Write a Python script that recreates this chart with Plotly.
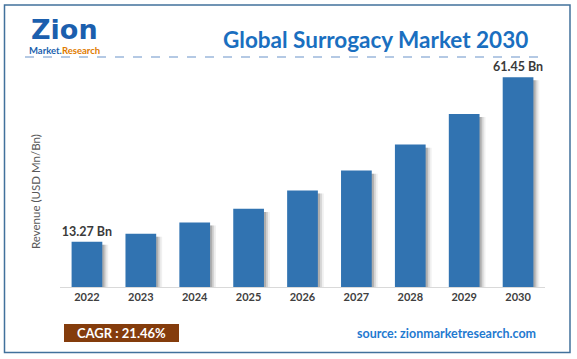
import plotly.graph_objects as go

# ---- data ----
years = ["2022", "2023", "2024", "2025", "2026", "2027", "2028", "2029", "2030"]
revenue = [13.27, 15.6, 18.9, 22.9, 28.3, 34.1, 41.7, 50.7, 61.45]
bar_labels = ["13.27 Bn", "", "", "", "", "", "", "", "61.45 Bn"]
title_text = "Global Surrogacy Market 2030"
y_title = "Revenue (USD Mn/Bn)"
cagr_text = "CAGR : 21.46%"
source_text = "source: zionmarketresearch.com"

W, H = 577, 359
L, R, T, B = 60, 32, 48, 72
PW, PH = W - L - R, H - T - B

def px(x):
    return (x - L) / PW

def py(y):
    return (H - B - y) / PH

FONT = "Lato"
BAR_COLOR = "#3173b1"
BW = 0.57

fig = go.Figure()

# soft shadows to the right of the bars
for dx, alpha in [(0.11, 0.08), (0.075, 0.15), (0.04, 0.25)]:
    fig.add_trace(go.Bar(
        x=years, y=[v - 0.9 for v in revenue], width=BW, offset=-BW / 2 + dx,
        marker=dict(color=f"rgba(60,60,60,{alpha})", line=dict(width=0)),
        hoverinfo="skip", showlegend=False,
    ))

fig.add_trace(go.Bar(
    x=years, y=revenue, width=BW, offset=-BW / 2,
    marker=dict(color=BAR_COLOR, line=dict(width=0)),
    text=bar_labels, textposition="outside", cliponaxis=False, constraintext="none",
    textfont=dict(family=FONT, size=12.5, color="#3a3a3a", weight="bold"),
    showlegend=False,
))

shapes = [
    # outer frame
    dict(type="rect", xref="paper", yref="paper", x0=px(4.5), x1=px(570), y0=py(5), y1=py(352.5),
         line=dict(color="#41719c", width=1.5), fillcolor="rgba(0,0,0,0)", layer="below"),
    # dashed line under the title
    dict(type="line", xref="paper", yref="paper", x0=px(25), x1=px(546), y0=py(57), y1=py(57),
         line=dict(color="#6b93c9", width=1.2, dash="dash")),
    # CAGR box
    dict(type="rect", xref="paper", yref="paper", x0=px(64), x1=px(179), y0=py(324), y1=py(342),
         line=dict(width=0), fillcolor="#843c0c"),
]

annotations = [
    dict(text=f"<b>{title_text}</b>", x=px(375), y=py(40), xref="paper", yref="paper",
         showarrow=False, xanchor="center", yanchor="middle",
         font=dict(family=FONT, size=22.5, color="#1a6fc0")),
    dict(text=y_title, x=px(35), y=py(192), xref="paper", yref="paper", textangle=-90,
         showarrow=False, xanchor="center", yanchor="middle",
         font=dict(family=FONT, size=11.5, color="#595959")),
    dict(text=f"<b>{cagr_text}</b>", x=px(121.5), y=py(333), xref="paper", yref="paper",
         showarrow=False, xanchor="center", yanchor="middle",
         font=dict(family=FONT, size=13, color="#ffffff")),
    dict(text=f"<b>{source_text}</b>", x=px(538), y=py(333), xref="paper", yref="paper",
         showarrow=False, xanchor="right", yanchor="middle",
         font=dict(family=FONT, size=12.5, color="#1f7ad0")),
    # logo
    dict(text="<b>Zion</b>",
         x=px(64), y=py(30), xref="paper", yref="paper",
         showarrow=False, xanchor="center", yanchor="middle",
         font=dict(family="DejaVu Sans", size=27, color="#1b5fae")),
    dict(text="<b><span style='color:#1b5fae'>Market.</span><span style='color:#e07b00'>Research</span></b>",
         x=px(64), y=py(51), xref="paper", yref="paper",
         showarrow=False, xanchor="center", yanchor="middle",
         font=dict(family=FONT, size=9.5)),
]

fig.update_layout(
    width=W, height=H,
    margin=dict(l=L, r=R, t=T, b=B),
    paper_bgcolor="white", plot_bgcolor="white",
    barmode="overlay",
    showlegend=False,
    hovermode=False,
    shapes=shapes, annotations=annotations,
    xaxis=dict(showline=True, linecolor="#d9d9d9", linewidth=1, ticks="",
               tickfont=dict(family=FONT, size=11, color="#404040", weight="bold"),
               showgrid=False, zeroline=False, fixedrange=True),
    yaxis=dict(range=[0, 70], visible=False, showgrid=False, zeroline=False, fixedrange=True),
)

fig.write_html(
    "out.html",
    config={"displayModeBar": False},
    post_script="document.body.style.margin='0';document.body.style.overflow='hidden';",
)
